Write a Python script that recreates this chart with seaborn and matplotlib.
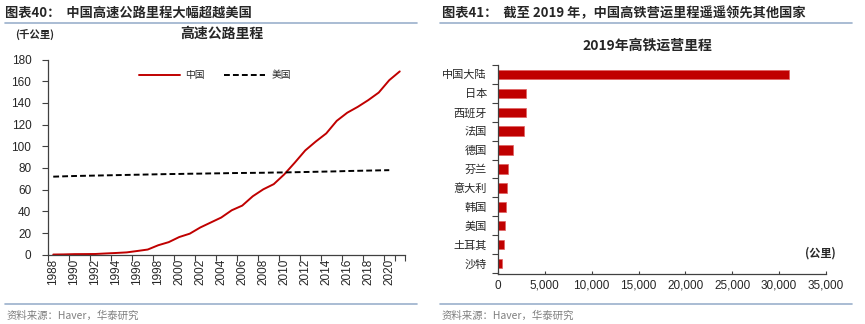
import matplotlib
matplotlib.use("Agg")
import matplotlib.pyplot as plt
import seaborn as sns
import pandas as pd
import numpy as np
from matplotlib.ticker import FuncFormatter

# ---------------- data ----------------
years = list(range(1988, 2022))
china_expressway = [0.15, 0.27, 0.52, 0.57, 0.65, 1.15, 1.60, 2.14, 3.42, 4.77,
                    8.73, 11.6, 16.3, 19.4, 25.1, 29.7, 34.3, 41.0, 45.3, 53.9,
                    60.3, 65.1, 74.1, 84.9, 96.2, 104.4, 111.9, 123.5, 131.0, 136.4,
                    142.6, 149.6, 161.0, 169.1]
us_years = list(range(1988, 2021))
us_interstate = [72.0, 72.3, 72.6, 72.8, 73.0, 73.2, 73.4, 73.6, 73.8, 74.0,
                 74.2, 74.4, 74.5, 74.7, 74.8, 75.0, 75.1, 75.3, 75.4, 75.5,
                 75.6, 75.8, 75.9, 76.1, 76.3, 76.5, 76.7, 76.9, 77.2, 77.4,
                 77.6, 77.8, 78.0]
year_ticks = list(range(1988, 2021, 2))

countries = ["中国大陆", "日本", "西班牙", "法国", "德国", "芬兰", "意大利", "韩国", "美国", "土耳其", "沙特"]
hsr_km = [31043, 3041, 2938, 2734, 1571, 1120, 921, 887, 735, 594, 453]

# ---------------- style ----------------
sns.set_theme(style="white")
plt.rcParams['font.family'] = ['Liberation Sans', 'Noto Sans CJK SC', 'DejaVu Sans']
plt.rcParams['axes.unicode_minus'] = False
CJK = ['Noto Sans CJK SC', 'DejaVu Sans']
RED = "#C00000"
LINEC = "#9BB0CC"
GREY = "#7F7F7F"

W, H = 865, 324
fig = plt.figure(figsize=(W / 100, H / 100), dpi=100)

def fx(px):
    return px / W

def fy(py):
    return 1 - py / H

# ---------------- left chart ----------------
axL = fig.add_axes([fx(48), fy(254.7), fx(405 - 48), fy(59.6) - fy(254.7)])
dfc = pd.DataFrame({"year": years, "val": china_expressway, "s": "中国"})
dfu = pd.DataFrame({"year": us_years, "val": us_interstate, "s": "美国"})
sns.lineplot(data=dfc, x="year", y="val", ax=axL, color=RED, lw=1.4, label="中国")
sns.lineplot(data=dfu, x="year", y="val", ax=axL, color="black", lw=1.4,
             linestyle=(0, (3, 1.6)), label="美国")
axL.set_xlim(1987.5, 2021.5)
axL.set_ylim(0, 180)
axL.set_yticks(range(0, 181, 20))
axL.set_xticks([y - 0.5 for y in year_ticks] + [2020.5, 2021.5])
axL.set_xticklabels([])
axL.set_xticks(year_ticks, minor=True)
axL.set_xticklabels([str(y) for y in year_ticks], minor=True, rotation=90, fontsize=8.5)
axL.tick_params(axis="x", which="major", direction="out", length=4, width=0.8, color="#404040", bottom=True)
axL.tick_params(axis="x", which="minor", length=0, pad=3, bottom=True)
axL.tick_params(axis="y", direction="out", length=4, width=0.8, color="#404040", labelsize=8.5, pad=8, left=True)
for s in ["top", "right"]:
    axL.spines[s].set_visible(False)
for s in ["left", "bottom"]:
    axL.spines[s].set_color("#404040")
    axL.spines[s].set_linewidth(0.9)
axL.set_xlabel("")
axL.set_ylabel("")
leg = axL.legend(loc="upper left", bbox_to_anchor=(0.23, 0.99), ncol=2, frameon=False,
                 prop={'family': CJK, 'size': 7}, handlelength=4.2, columnspacing=2.0,
                 handletextpad=0.6)

fig.text(fx(15), fy(34), "(千公里)", family=CJK, fontsize=7.5, fontweight="bold", va="center", ha="left")
fig.text(fx(222), fy(34), "高速公路里程", family=CJK, fontsize=10, fontweight="bold", va="center", ha="center")

# ---------------- right chart ----------------
axR = fig.add_axes([fx(498), fy(274), fx(826 - 498), fy(65) - fy(274)])
dfr = pd.DataFrame({"country": countries, "km": hsr_km})
sns.barplot(data=dfr, y="country", x="km", orient="h", ax=axR, color=RED,
            width=0.5, saturation=1, edgecolor="#E06060", linewidth=0.5)
axR.set_xlim(0, 35000)
axR.set_ylim(10.55, -0.5)
axR.set_xticks(range(0, 35001, 5000))
axR.xaxis.set_major_formatter(FuncFormatter(lambda v, p: f"{int(v):,}"))
axR.set_yticks([i - 0.5 for i in range(len(countries) + 1)], minor=False)
axR.set_yticklabels([])
axR.set_yticks(range(len(countries)), minor=True)
axR.set_yticklabels(countries, minor=True, family=CJK, fontsize=8)
axR.tick_params(axis="y", which="major", direction="out", length=4, width=0.8, color="#404040", left=True)
axR.tick_params(axis="y", which="minor", length=0, pad=8, left=True)
axR.tick_params(axis="x", direction="in", length=2.5, width=0.8, color="#404040", labelsize=8.5, pad=4, bottom=True)
for s in ["top", "right"]:
    axR.spines[s].set_visible(False)
for s in ["left", "bottom"]:
    axR.spines[s].set_color("#404040")
    axR.spines[s].set_linewidth(0.9)
axR.set_xlabel("")
axR.set_ylabel("")

fig.text(fx(647), fy(46), "2019年高铁运营里程", family=CJK, fontsize=10, fontweight="bold", va="center", ha="center")
fig.text(fx(836), fy(253), "(公里)", family=CJK, fontsize=8, fontweight="bold", va="center", ha="right")

# ---------------- headers / footers ----------------
fig.text(fx(5), fy(13), "图表40：  中国高速公路里程大幅超越美国", family=CJK, fontsize=9.5,
         fontweight="bold", va="center", ha="left")
fig.text(fx(442), fy(13), "图表41：  截至 2019 年，中国高铁营运里程遥遥领先其他国家", family=CJK, fontsize=9.5,
         fontweight="bold", va="center", ha="left")
for x0, x1 in [(5, 417), (440, 852)]:
    for yy in (23, 304):
        fig.add_artist(plt.Line2D([fx(x0), fx(x1)], [fy(yy), fy(yy)], color=LINEC, lw=1.2,
                                  transform=fig.transFigure))
fig.text(fx(7), fy(316), "资料来源：Haver，华泰研究", family=CJK, fontsize=7.5, color=GREY, va="center", ha="left")
fig.text(fx(442), fy(316), "资料来源：Haver，华泰研究", family=CJK, fontsize=7.5, color=GREY, va="center", ha="left")

fig.savefig("out.png", dpi=100)
